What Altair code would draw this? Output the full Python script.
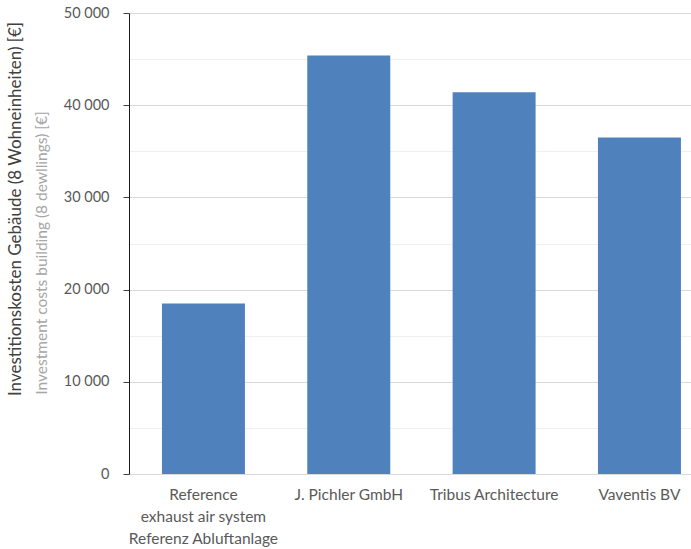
import altair as alt
import pandas as pd

categories = ["Reference|exhaust air system|Referenz Abluftanlage", "J. Pichler GmbH",
              "Tribus Architecture", "Vaventis BV"]
values = [18500, 45400, 41400, 36500]
y_ticks = list(range(0, 50001, 5000))
title_de = "Investitionskosten Gebäude (8 Wohneinheiten) [€]"
title_en = "Investment costs building (8 dewllings) [€]"

FONT = "Lato"
df = pd.DataFrame({"cat": categories, "val": values})

major = "datum.value % 10000 == 0"

bars = alt.Chart(df).mark_bar(color="#4f81bd").encode(
    x=alt.X("cat:N", sort=None,
            scale=alt.Scale(paddingInner=0.429, paddingOuter=0.148, align=0.766),
            axis=alt.Axis(title=None, labelExpr="split(datum.label, '|')", labelAngle=0,
                          labelColor="#595959", labelFontSize=15.5, labelFont=FONT,
                          domain=False, ticks=False, labelPadding=13, labelLineHeight=22,
                          grid=False)),
    y=alt.Y("val:Q", scale=alt.Scale(domain=[0, 50000], nice=False),
            axis=alt.Axis(title=None, values=y_ticks,
                          labelExpr="datum.value % 10000 == 0 ? replace(format(datum.value, ','), ',', ' ') : ''",
                          labelColor="#595959", labelFontSize=14.5, labelFont=FONT,
                          labelPadding=14, tickSize=6,
                          tickColor={"condition": {"test": major, "value": "#404040"}, "value": "transparent"},
                          gridColor={"condition": {"test": major, "value": "#d9d9d9"}, "value": "#efefef"},
                          domainColor="#1a1a1a", grid=True)),
)

t1 = alt.Chart(pd.DataFrame({"t": [title_de]})).mark_text(
    angle=270, font=FONT, fontSize=17, color="#404040", align="center", baseline="middle"
).encode(x=alt.value(-113), y=alt.value(196), text="t:N")

t2 = alt.Chart(pd.DataFrame({"t": [title_en]})).mark_text(
    angle=270, font=FONT, fontSize=15.5, color="#a6a6a6", align="center", baseline="middle"
).encode(x=alt.value(-87), y=alt.value(240), text="t:N")

chart = alt.layer(bars, t1, t2).properties(
    width=562, height=461,
    autosize=alt.AutoSizeParams(type="none"),
    padding={"left": 129, "top": 13, "right": 0, "bottom": 75},
).configure_view(stroke=None).configure(background="white")

chart.save("out.html", embed_options={"renderer": "svg", "actions": False})
